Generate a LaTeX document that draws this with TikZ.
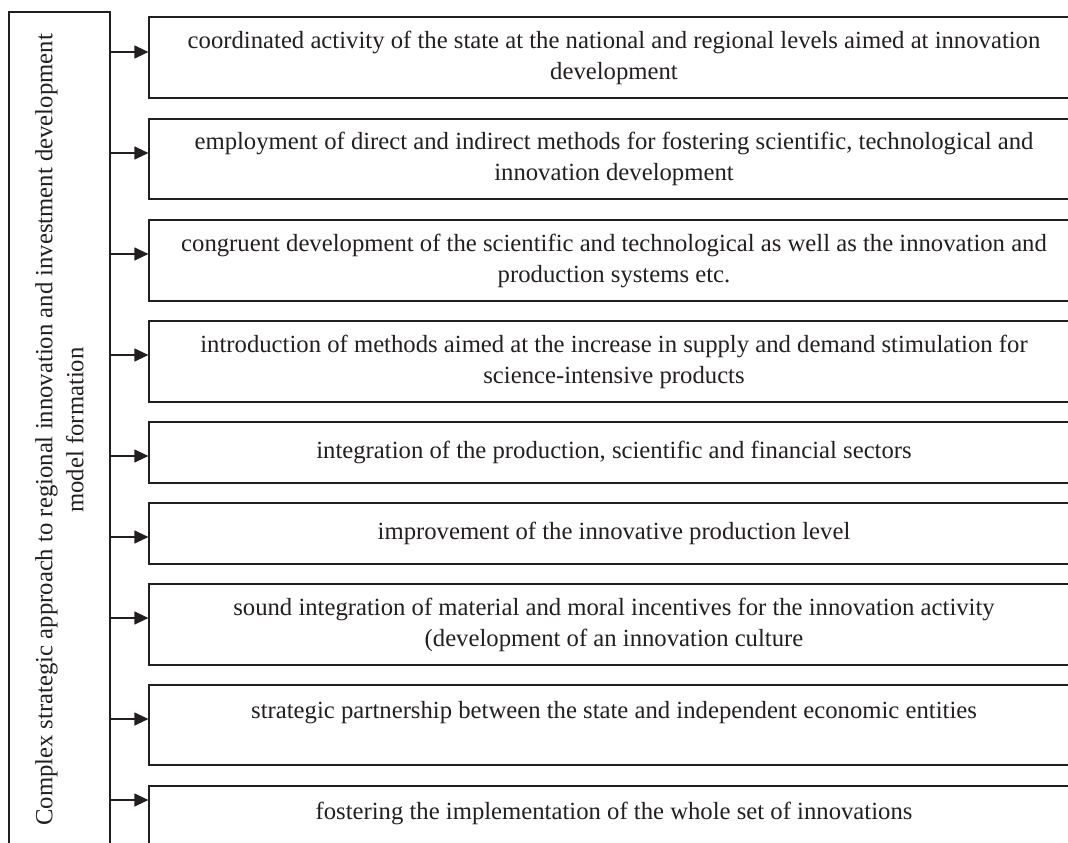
\documentclass[tikz,border=0pt]{standalone}
\usepackage{fontspec}
\setmainfont{Liberation Serif}
\usetikzlibrary{arrows.meta}
\definecolor{ink}{RGB}{35,31,32}

\begin{document}
\begin{tikzpicture}[x=1pt,y=-1pt,
  every node/.style={font=\fontsize{24.7}{31}\selectfont, text=ink},
  box/.style={draw=ink, line width=1.2pt, minimum width=930pt, align=center, inner sep=0pt},
  arr/.style={draw=ink, line width=1.2pt, -{Triangle[length=14pt,width=13pt]}}]
\useasboundingbox (0,0) rectangle (1068,843);
\clip (0,0) rectangle (1068,843);

\node[draw=ink, line width=1.2pt, rotate=90, minimum width=836pt, minimum height=101pt, align=center, inner sep=0pt] (lead) at (59.5,430) {Complex strategic approach to regional innovation and investment development\\model formation};

\node[box, minimum height=81pt] (b1) at (614,57.5) {coordinated activity of the state at the national and regional levels aimed at innovation\\development};
\node[box, minimum height=80pt] (b2) at (614,159) {employment of direct and indirect methods for fostering scientific, technological and\\innovation development};
\node[box, minimum height=81pt] (b3) at (614,260.5) {congruent development of the scientific and technological as well as the innovation and\\production systems etc.};
\node[box, minimum height=81pt] (b4) at (614,361.5) {introduction of methods aimed at the increase in supply and demand stimulation for\\science-intensive products};
\node[box, minimum height=61pt] (b5) at (614,452.5) {integration of the production, scientific and financial sectors};
\node[box, minimum height=61pt] (b6) at (614,533.5) {improvement of the innovative production level};
\node[box, minimum height=81pt] (b7) at (614,624.5) {sound integration of material and moral incentives for the innovation activity\\(development of an innovation culture};
\node[box, minimum height=80pt] (b8) at (614,725) {strategic partnership between the state and independent economic entities\\~};
\node[box, minimum height=81pt] (b9) at (614,826.5) {fostering the implementation of the whole set of innovations\\~};

\path[arr] (lead.south |- 0,52) -- (b1.west |- 0,52);
\path[arr] (lead.south |- 0,153) -- (b2.west |- 0,153);
\path[arr] (lead.south |- 0,254) -- (b3.west |- 0,254);
\path[arr] (lead.south |- 0,355) -- (b4.west |- 0,355);
\path[arr] (lead.south |- 0,456) -- (b5.west |- 0,456);
\path[arr] (lead.south |- 0,537) -- (b6.west |- 0,537);
\path[arr] (lead.south |- 0,618) -- (b7.west |- 0,618);
\path[arr] (lead.south |- 0,719) -- (b8.west |- 0,719);
\path[arr] (lead.south |- 0,800) -- (b9.west |- 0,800);
\end{tikzpicture}
\end{document}
